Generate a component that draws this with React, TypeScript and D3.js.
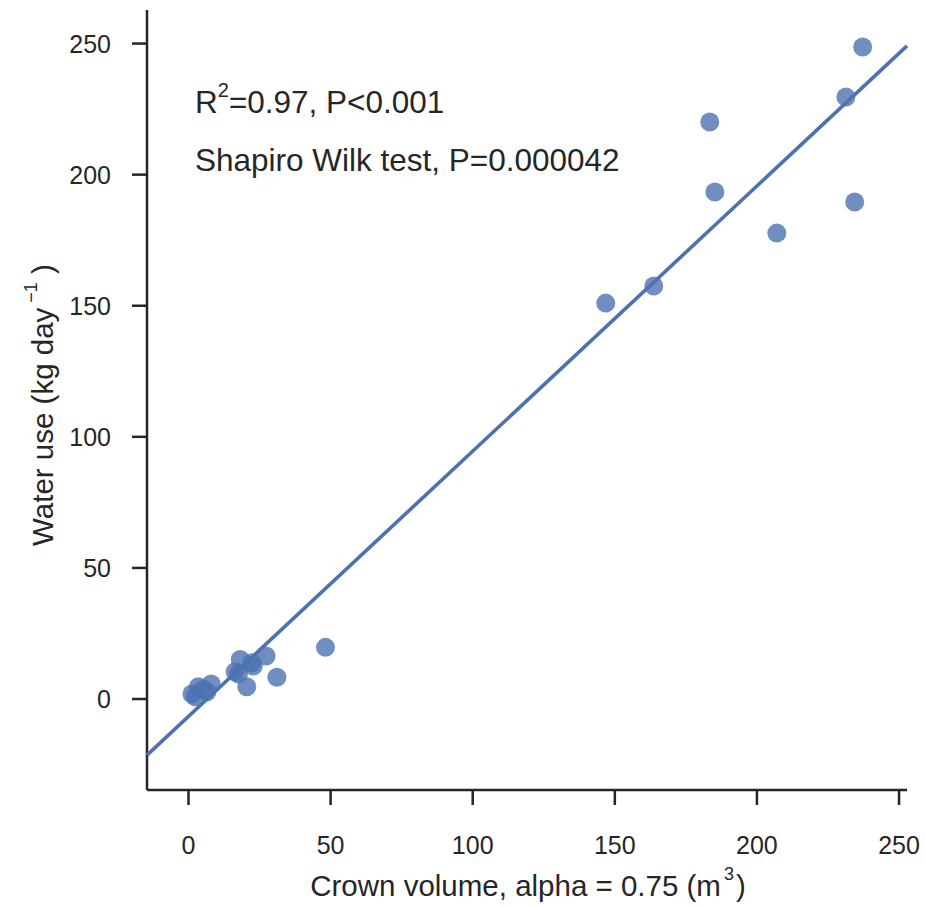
import React from 'react';
import * as d3 from 'd3';

// crown volume (m3) and water use (kg/day)
const crownVolume = [
  237.2, 231.3, 183.4, 185.2, 234.4, 207.0, 163.7, 146.8,
  48.2, 31.1, 20.5, 27.3, 22.3, 18.2, 16.4, 22.8, 17.6, 8.0, 5.3, 3.5, 1.2, 2.4, 6.5,
];
const waterUse = [
  248.7, 229.6, 220.1, 193.4, 189.6, 177.7, 157.5, 151.0,
  19.7, 8.3, 4.7, 16.4, 13.8, 15.1, 10.4, 12.6, 9.5, 5.7, 3.7, 4.7, 1.9, 0.9, 2.8,
];
const xTicks = [0, 50, 100, 150, 200, 250];
const yTicks = [0, 50, 100, 150, 200, 250];
const fitSlope = 1.0116;
const fitIntercept = -6.63;
const xDomain = [-14.6, 252.8];
const yDomain = [-34.7, 262.8];

const BLUE = '#4c72b0';
const INK = '#262626';
const FONT = '"Liberation Sans", Arial, sans-serif';

export default function App() {
  const width = 926;
  const height = 908;
  const margin = { top: 10, right: 19, bottom: 118, left: 147 };

  const x = d3.scaleLinear().domain(xDomain).range([margin.left, width - margin.right]);
  const y = d3.scaleLinear().domain(yDomain).range([height - margin.bottom, margin.top]);
  const points = crownVolume.map((v, i) => ({ x: v, y: waterUse[i] }));

  const line = d3.line<number>()
    .x((d) => x(d))
    .y((d) => y(fitSlope * d + fitIntercept));

  const bottom = height - margin.bottom;

  return (
    <svg
      width={width}
      height={height}
      style={{ position: 'absolute', left: 0, top: 0, background: '#fff' }}
      fontFamily={FONT}
    >
      {/* spines */}
      <line x1={margin.left} x2={margin.left} y1={margin.top} y2={bottom} stroke={INK} strokeWidth={2.5} />
      <line x1={margin.left} x2={width - margin.right} y1={bottom} y2={bottom} stroke={INK} strokeWidth={2.5} />

      {yTicks.map((t) => (
        <g key={`y${t}`}>
          <line x1={margin.left - 15} x2={margin.left} y1={y(t)} y2={y(t)} stroke={INK} strokeWidth={2.5} />
          <text x={margin.left - 36} y={y(t)} dy="0.36em" textAnchor="end" fontSize={25} fill={INK}>
            {t}
          </text>
        </g>
      ))}

      {xTicks.map((t) => (
        <g key={`x${t}`}>
          <line x1={x(t)} x2={x(t)} y1={bottom} y2={bottom + 15} stroke={INK} strokeWidth={2.5} />
          <text x={x(t)} y={bottom + 64} textAnchor="middle" fontSize={25} fill={INK}>
            {t}
          </text>
        </g>
      ))}

      <path d={line(xDomain) || ''} fill="none" stroke={BLUE} strokeWidth={3.6} />

      {points.map((p, i) => (
        <circle key={i} cx={x(p.x)} cy={y(p.y)} r={9.5} fill={BLUE} fillOpacity={0.8} />
      ))}

      <text x={195} y={113} fontSize={31.5} fill={INK}>
        R<tspan fontSize={20} dy={-16}>2</tspan>
        <tspan dy={16}>=0.97, P&lt;0.001</tspan>
      </text>
      <text x={195} y={171} fontSize={31.5} fill={INK}>
        Shapiro Wilk test, P=0.000042
      </text>

      <text x={528} y={896} textAnchor="middle" fontSize={29.5} fill={INK}>
        Crown volume, alpha = 0.75 (m<tspan fontSize={18} dx={3} dy={-16}>3</tspan>
        <tspan dx={2} dy={16}>)</tspan>
      </text>

      <text
        transform={`translate(53,405) rotate(-90)`}
        textAnchor="middle"
        fontSize={29.5}
        fill={INK}
      >
        Water use (kg day<tspan fontSize={18} dy={-16}> −1</tspan>
        <tspan dy={16}> )</tspan>
      </text>
    </svg>
  );
}
